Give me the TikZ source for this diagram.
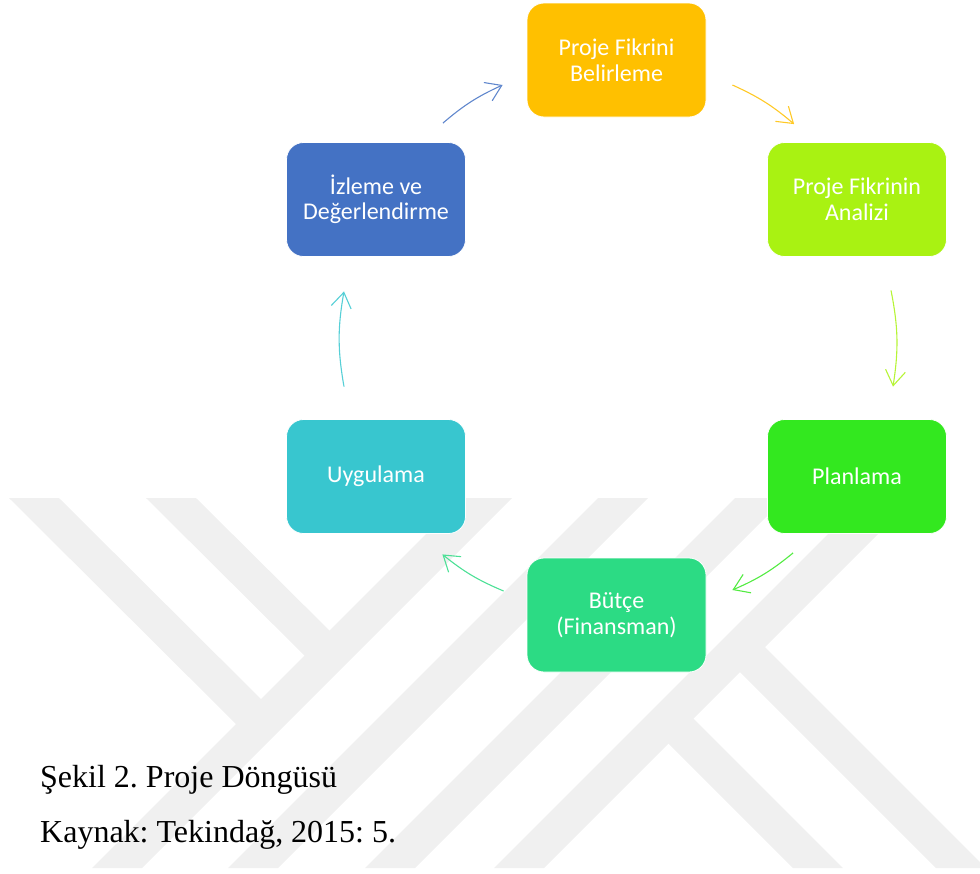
\documentclass[tikz,border=0pt]{standalone}
\usepackage{fontspec}
\setmainfont{Liberation Serif}
\newfontfamily\boxfont{Carlito}
\usetikzlibrary{positioning, arrows.meta}
\definecolor{ideacol}{HTML}{FFC000}
\definecolor{analizcol}{HTML}{A9F212}
\definecolor{plancol}{HTML}{33E81F}
\definecolor{butcecol}{HTML}{2CDB84}
\definecolor{uygcol}{HTML}{38C6CF}
\definecolor{izlemecol}{HTML}{4472C4}
\definecolor{wmark}{HTML}{F0F0F0}
\tikzstyle{stage} = [rectangle, rounded corners=17pt, minimum width=179pt, minimum height=114pt, inner sep=0pt, align=center, text=white, draw=white, line width=0.8pt, font=\boxfont\fontsize{24}{25.5}\selectfont]
\tikzstyle{flow} = [line width=1.1pt, -{Straight Barb[length=15pt,width=20pt]}]
\tikzstyle{caption} = [anchor=base west, inner sep=0pt, font=\frenchspacing\fontsize{32}{38}\selectfont]

\begin{document}
\begin{tikzpicture}[x=1pt, y=-1pt, node distance=139.5pt and 240.5pt, on grid]
\useasboundingbox (0,0) rectangle (980,873);

% watermark
\fill[wmark] (9,498) -- (59,498) -- (271,709) -- (246,734) -- cycle;
\fill[wmark] (146,498) -- (196,498) -- (339.5,640.5) -- (314.5,665.5) -- cycle;
\foreach \c in {960,1096,1233,1362}
  \fill[wmark] ({\c-498},498) -- ({\c+50-498},498) -- ({\c+50-868},868) -- ({\c-868},868) -- cycle;
\fill[wmark] (682.5,707.5) -- (843,868) -- (793,868) -- (657.5,732.5) -- cycle;
\fill[wmark] (754,636) -- (986,868) -- (936,868) -- (729,661) -- cycle;

\node (idea) [stage, fill=ideacol] at (616.5,60) {Proje Fikrini\\Belirleme};
\node (analiz) [stage, fill=analizcol, below right=of idea] {Proje Fikrinin\\Analizi};
\node (planlama) [stage, fill=plancol, below=277pt of analiz] {Planlama};
\node (butce) [stage, fill=butcecol, below left=138.5pt and 240.5pt of planlama] {Bütçe\\(Finansman)};
\node (uygulama) [stage, fill=uygcol, above left=138.5pt and 240.5pt of butce] {Uygulama};
\node (izleme) [stage, fill=izlemecol, above=277pt of uygulama] {İzleme ve\\Değerlendirme};

\draw [flow, color=izlemecol!85] ([xshift=-23pt,yshift=19pt]izleme.north east) to[bend left=8] ([xshift=-24pt,yshift=-25pt]idea.west);
\draw [flow, color=ideacol!85] ([xshift=26pt,yshift=-25pt]idea.east) to[bend left=8] ([xshift=27pt,yshift=18pt]analiz.north west);
\draw [flow, color=analizcol!85] ([xshift=34pt,yshift=-33.5pt]analiz.south) to[bend left=10] ([xshift=36pt,yshift=32.5pt]planlama.north);
\draw [flow, color=plancol!85] ([xshift=26pt,yshift=-19pt]planlama.south west) to[bend left=8] ([xshift=26pt,yshift=25pt]butce.east);
\draw [flow, color=butcecol!85] ([xshift=-23pt,yshift=24pt]butce.west) to[bend left=8] ([xshift=-23.5pt,yshift=-20.5pt]uygulama.south east);
\draw [flow, color=uygcol!85] ([xshift=-32pt,yshift=32.5pt]uygulama.north) to[bend left=10] ([xshift=-32pt,yshift=-34.5pt]izleme.south);

\node (sekil) [caption] at (40,787) {Şekil 2. Proje Döngüsü};
\node (kaynak) [caption] at (40,842) {Kaynak: Tekindağ, 2015: 5.};

\end{tikzpicture}
\end{document}
